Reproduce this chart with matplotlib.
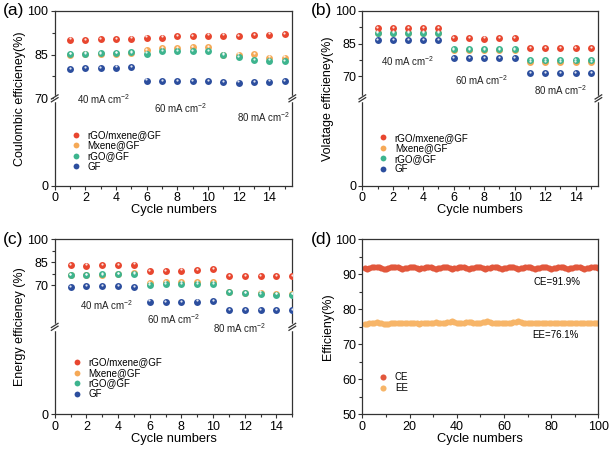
import numpy as np
import matplotlib.pyplot as plt
from matplotlib.lines import Line2D
from matplotlib.ticker import FixedLocator
from matplotlib.transforms import ScaledTranslation

plt.rcParams['font.family'] = ['Liberation Sans', 'DejaVu Sans']
plt.rcParams['mathtext.fontset'] = 'custom'
plt.rcParams['mathtext.rm'] = 'Liberation Sans'

# data
cycles = np.arange(1, 16)
series_names = ["rGO/mxene@GF", "Mxene@GF", "rGO@GF", "GF"]

# (a) coulombic efficiency
ce_rgo_mx = [90.1, 90.0, 90.2, 90.3, 90.4, 90.8, 90.8, 91.2, 91.4, 91.5, 91.5, 91.4, 91.7, 91.8, 92.1]
ce_mx = [85.0, 85.1, 85.2, 85.3, 85.6, 86.6, 87.1, 87.3, 87.5, 87.6, 84.9, 85.0, 85.2, 83.9, 83.9]
ce_rgo = [85.2, 85.3, 85.4, 85.5, 85.9, 85.3, 86.1, 86.1, 86.1, 86.1, 85.0, 84.1, 83.2, 82.9, 82.8]
ce_gf = [80.1, 80.3, 80.4, 80.5, 80.7, 76.1, 76.0, 76.0, 76.0, 76.0, 75.5, 75.4, 75.5, 75.7, 75.9]

# (b) voltage efficiency
ve_rgo_mx = [92.0, 92.0, 92.0, 92.0, 92.0, 87.6, 87.6, 87.3, 87.6, 87.6, 82.9, 82.9, 82.8, 82.9, 82.9]
ve_mx = [89.8, 89.8, 89.8, 89.8, 89.8, 81.9, 81.9, 81.9, 81.9, 81.9, 76.4, 76.4, 76.4, 76.4, 76.4]
ve_rgo = [90.0, 90.0, 90.0, 90.0, 90.0, 82.5, 82.5, 82.5, 82.5, 82.5, 77.3, 77.3, 77.3, 77.3, 77.3]
ve_gf = [86.4, 86.4, 86.4, 86.5, 86.5, 78.4, 78.4, 78.4, 78.5, 78.4, 71.5, 71.5, 71.6, 71.5, 71.5]

# (c) energy efficiency
ee_rgo_mx = [83.1, 82.9, 83.3, 83.3, 83.5, 79.4, 79.4, 79.6, 80.1, 80.5, 75.8, 75.8, 75.8, 76.0, 76.0]
ee_mx = [76.7, 76.7, 76.9, 77.1, 77.8, 71.3, 71.9, 71.9, 71.9, 72.1, 65.7, 65.1, 65.3, 64.2, 64.2]
ee_rgo = [76.9, 76.9, 77.1, 77.3, 77.5, 70.2, 70.6, 70.9, 70.9, 70.6, 65.5, 64.9, 64.2, 64.0, 64.0]
ee_gf = [69.1, 69.4, 69.4, 69.6, 68.9, 59.5, 59.3, 59.3, 59.5, 59.9, 53.7, 53.7, 53.7, 53.7, 54.1]

# (d) long cycling at 80 mA cm-2
long_cycles = np.arange(1, 101)
ce_long = [91.7, 91.5, 91.8, 92.0, 92.1, 92.1, 92.0, 91.8, 91.5, 91.6,
           91.8, 92.0, 92.1, 92.1, 92.0, 91.8, 91.5, 91.7, 91.9, 92.0,
           92.1, 92.0, 91.8, 91.5, 91.7, 91.9, 92.0, 92.1, 92.0, 91.8,
           91.5, 91.7, 91.9, 92.0, 92.1, 92.0, 91.8, 91.5, 91.7, 91.9,
           92.0, 92.1, 92.0, 91.8, 91.5, 91.7, 91.9, 92.0, 92.1, 92.0,
           91.8, 91.5, 91.7, 91.9, 92.0, 92.1, 92.0, 91.8, 91.5, 91.7,
           91.9, 92.0, 92.1, 92.0, 91.8, 91.5, 91.7, 91.9, 92.0, 92.1,
           92.0, 91.8, 91.5, 91.7, 91.9, 92.0, 92.1, 92.0, 91.8, 91.5,
           91.7, 91.9, 92.0, 92.1, 92.0, 91.8, 91.5, 91.7, 91.9, 92.0,
           92.1, 92.0, 91.8, 91.5, 91.7, 91.9, 92.0, 92.1, 92.0, 91.9]
ee_long = [75.8, 75.9, 76.0, 76.1, 76.2, 76.3, 76.2, 76.0, 75.8, 75.7,
           75.9, 76.1, 76.2, 76.2, 76.1, 76.1, 76.2, 76.1, 76.1, 76.2,
           76.2, 76.1, 76.0, 75.9, 76.0, 76.1, 76.2, 76.2, 76.1, 76.2,
           76.3, 76.2, 76.1, 76.1, 76.2, 76.3, 76.4, 76.6, 76.3, 76.2,
           76.2, 76.1, 76.2, 76.3, 76.5, 76.3, 76.2, 76.1, 76.2, 76.2,
           76.3, 76.4, 76.6, 76.3, 76.2, 76.1, 76.1, 76.2, 76.2, 76.1,
           76.2, 76.1, 76.2, 76.3, 76.4, 76.6, 76.3, 76.2, 76.1, 76.1,
           76.2, 76.1, 76.1, 76.2, 76.2, 76.1, 76.0, 76.1, 76.2, 76.1,
           76.1, 76.0, 76.0, 76.1, 76.1, 76.2, 76.1, 76.0, 76.1, 76.1,
           76.0, 76.1, 76.1, 76.0, 76.1, 76.1, 76.0, 76.0, 76.1, 76.0]

colors = ["#E8462F", "#F5A957", "#3DB48E", "#2C4E9E"]
ce_color, ee_color = "#E2573C", "#F7B568"
axis_color = "#333333"


def broken_scale(brk, frac=0.5):
    # 0..brk takes the lower half of the axis, brk..100 the upper half
    def fwd(v):
        v = np.asarray(v, float)
        return np.where(v < brk, v / brk * frac, frac + (v - brk) / (100 - brk) * (1 - frac))

    def inv(y):
        y = np.asarray(y, float)
        return np.where(y < frac, y / frac * brk, brk + (y - frac) / (1 - frac) * (100 - brk))
    return fwd, inv


def style_axes(ax):
    for s in ax.spines.values():
        s.set_color(axis_color)
        s.set_linewidth(0.9)
    ax.tick_params(which="both", direction="out", color=axis_color, labelsize=9,
                   width=0.8, pad=1.5)
    ax.tick_params(which="major", length=3)
    ax.tick_params(which="minor", length=2)


def break_marks(ax, ypos):
    dx, dy, gap = 0.014, 0.012, 0.016
    for x in (0, 1):
        ax.plot([x, x], [ypos - gap * 0.6, ypos + gap * 0.6], color="white", lw=2.5,
                transform=ax.transAxes, clip_on=False, zorder=5)
        for off in (-gap / 2, gap / 2):
            ax.plot([x - dx, x + dx], [ypos + off - dy, ypos + off + dy], color=axis_color,
                    lw=0.9, transform=ax.transAxes, clip_on=False, zorder=6)


def balls(ax, x, y, color, ms=5.0):
    ax.plot(x, y, "o", ms=ms, color=color, mec="none", zorder=3)
    shift = ScaledTranslation(-0.2 / 72, 0.9 / 72, ax.figure.dpi_scale_trans)
    ax.plot(x, y, "o", ms=1.6, color="white", mec="none", alpha=0.85,
            transform=ax.transData + shift, zorder=4)


fig = plt.figure(figsize=(6.1, 4.51), dpi=100)
boxes = {
    "a": [0.0897, 0.5876, 0.3895, 0.3887],
    "b": [0.594, 0.5876, 0.387, 0.3887],
    "c": [0.0897, 0.0813, 0.3895, 0.388],
    "d": [0.594, 0.0813, 0.387, 0.388],
}

panels = [
    ("a", (ce_rgo_mx, ce_mx, ce_rgo, ce_gf), 70, 15.5, "Coulombic efficieney(%)",
     [(0.094, 0.496), (0.418, 0.445), (0.767, 0.394)], (0.055, 0.06)),
    ("b", (ve_rgo_mx, ve_mx, ve_rgo, ve_gf), 60, 15.5, "Volatage efficieney(%)",
     [(0.079, 0.713), (0.393, 0.605), (0.727, 0.548)], (0.055, 0.045)),
    ("c", (ee_rgo_mx, ee_mx, ee_rgo, ee_gf), 43, 15.0, "Energy efficieney (%)",
     [(0.107, 0.625), (0.389, 0.545), (0.666, 0.493)], (0.06, 0.065)),
]

for key, data, brk, xmax, ylabel, notes, leg_pos in panels:
    ax = fig.add_axes(boxes[key])
    fwd, inv = broken_scale(brk)
    ax.set_yscale("function", functions=(fwd, inv))
    # draw order: GF, Mxene, rGO, rGO/mxene (green covers orange where they overlap)
    for idx in (3, 1, 2, 0):
        balls(ax, cycles, data[idx], colors[idx])
    ax.set_ylim(0, 100)
    ax.set_xlim(0, xmax)
    ax.yaxis.set_major_locator(FixedLocator([0, 70, 85, 100]))
    ax.yaxis.set_minor_locator(FixedLocator([77.5, 92.5]))
    ax.set_xticks(np.arange(0, 15, 2))
    ax.xaxis.set_minor_locator(FixedLocator(np.arange(1, 16, 2)))
    style_axes(ax)
    break_marks(ax, 0.5)
    ax.set_xlabel("Cycle numbers", fontsize=9.3, labelpad=0)
    ax.set_ylabel(ylabel, fontsize=9, labelpad=1)
    for (tx, ty), cd in zip(notes, ["40", "60", "80"]):
        ax.text(tx, ty, cd + " mA cm$^{-2}$", transform=ax.transAxes, fontsize=7,
                va="center", ha="left", color="#222222")
    handles = [Line2D([], [], ls="none", marker="o", ms=4.2, color=c, mec="none")
               for c in colors]
    ax.legend(handles, series_names, loc="lower left", bbox_to_anchor=leg_pos,
              frameon=False, fontsize=7, handletextpad=0.8, labelspacing=0.05,
              handlelength=0.8, borderaxespad=0)
    fig.text(boxes[key][0] - 0.085, boxes[key][1] + boxes[key][3], f"({key})",
             fontsize=12.5, va="center", ha="left")

# (d)
ax = fig.add_axes(boxes["d"])
ax.plot(long_cycles, ce_long, "o", ms=4.4, color=ce_color, mec="none", label="CE")
ax.plot(long_cycles, ee_long, "o", ms=4.4, color=ee_color, mec="none", label="EE")
ax.set_xlim(0, 100)
ax.set_ylim(50, 100)
ax.set_xticks(np.arange(0, 101, 20))
ax.set_yticks(np.arange(50, 101, 10))
ax.xaxis.set_minor_locator(FixedLocator(np.arange(10, 100, 20)))
ax.yaxis.set_minor_locator(FixedLocator(np.arange(55, 100, 10)))
style_axes(ax)
ax.set_xlabel("Cycle numbers", fontsize=9.3, labelpad=0)
ax.set_ylabel("Efficieny(%)", fontsize=9, labelpad=1)
ax.text(0.727, 0.756, "CE=91.9%", transform=ax.transAxes, fontsize=7, va="center")
ax.text(0.719, 0.453, "EE=76.1%", transform=ax.transAxes, fontsize=7, va="center")
ax.legend(loc="lower left", bbox_to_anchor=(0.055, 0.1), frameon=False, fontsize=7,
          handletextpad=0.8, labelspacing=0.05, handlelength=0.8, borderaxespad=0,
          markerscale=1.0)
fig.text(boxes["d"][0] - 0.085, boxes["d"][1] + boxes["d"][3], "(d)",
         fontsize=12.5, va="center", ha="left")

fig.savefig("out.png", dpi=100)
